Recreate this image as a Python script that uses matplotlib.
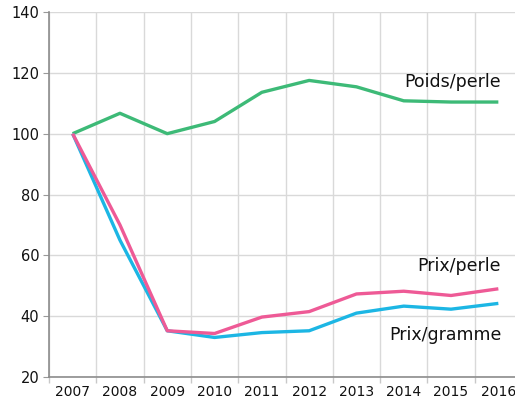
import numpy as np
import matplotlib.pyplot as plt

# Données
annees = ["2007", "2008", "2009", "2010", "2011", "2012", "2013", "2014", "2015", "2016"]
poids_perle = [100, 106.7, 100, 104.0, 113.6, 117.5, 115.4, 110.8, 110.4, 110.4]
prix_perle = [100, 70.0, 35.2, 34.3, 39.7, 41.5, 47.3, 48.2, 46.8, 49.0]
prix_gramme = [100, 65.0, 35.2, 33.0, 34.6, 35.2, 41.0, 43.3, 42.3, 44.2]

x = np.arange(len(annees))

fig = plt.figure(figsize=(5.15, 4.12), dpi=100)
ax = fig.add_axes([49 / 515, 1 - 377 / 412, (522 - 49) / 515, (377 - 12) / 412])

vert = "#3dba77"
rose = "#ee5a96"
bleu = "#1cb6e4"

ax.plot(x, poids_perle, color=vert, linewidth=2.4, solid_capstyle="butt", zorder=3)
ax.plot(x, prix_gramme, color=bleu, linewidth=2.4, solid_capstyle="butt", zorder=3)
ax.plot(x, prix_perle, color=rose, linewidth=2.4, solid_capstyle="butt", zorder=4)

ax.set_xlim(-0.5, len(annees) - 0.5)
ax.set_ylim(20, 140)
ax.set_yticks(range(20, 141, 20))

# Ticks majeurs aux limites des catégories, libellés au centre
ax.set_xticks(np.arange(-0.5, len(annees), 1.0))
ax.set_xticklabels([])
ax.set_xticks(x, minor=True)
ax.set_xticklabels(annees, minor=True)
ax.tick_params(axis="x", which="minor", length=0, pad=6, labelsize=10, labelcolor="#111111")
ax.tick_params(axis="x", which="major", length=4, color="#c8c8c8", width=1)
ax.tick_params(axis="y", length=4, color="#999999", labelsize=10.5, labelcolor="#111111", pad=3)

ax.grid(True, which="major", color="#d9d9d9", linewidth=1)
ax.set_axisbelow(True)

for s in ["top", "right"]:
    ax.spines[s].set_visible(False)
ax.spines["left"].set_color("#8c8c8c")
ax.spines["bottom"].set_color("#8c8c8c")
ax.spines["left"].set_linewidth(1.2)
ax.spines["bottom"].set_linewidth(1.2)

ax.text(9.06, 117.0, "Poids/perle", ha="right", va="center", fontsize=12.5, color="#111111")
ax.text(9.06, 56.6, "Prix/perle", ha="right", va="center", fontsize=12.5, color="#111111")
ax.text(9.06, 33.9, "Prix/gramme", ha="right", va="center", fontsize=12.5, color="#111111")

fig.savefig("out.png", dpi=100)
